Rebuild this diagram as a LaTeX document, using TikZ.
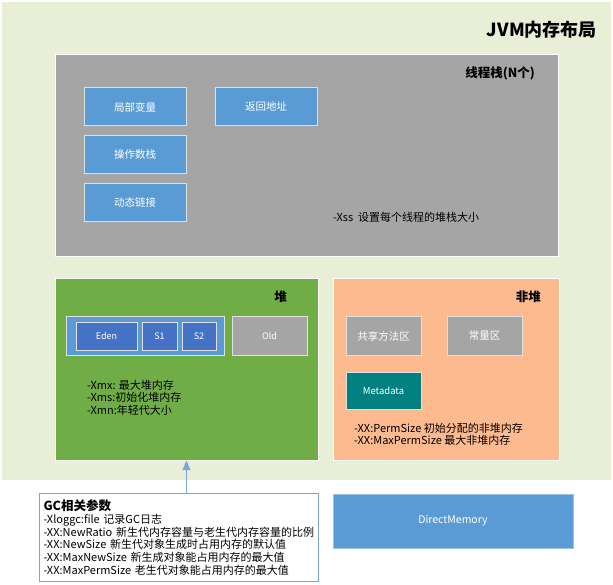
\documentclass[tikz,border=0pt]{standalone}
\usepackage{fontspec}
\setmainfont{Noto Sans CJK SC}
\usepackage{tikz}
\usetikzlibrary{arrows,calc,positioning}

\definecolor{jvmbg}{HTML}{E9EFD6}
\definecolor{stackgray}{HTML}{A5A5A5}
\definecolor{cellblue}{HTML}{5B9BD5}
\definecolor{darkblue}{HTML}{4472C4}
\definecolor{heapgreen}{HTML}{70AD47}
\definecolor{nonheaporange}{HTML}{FCBA8E}
\definecolor{metateal}{HTML}{008080}
\definecolor{gcline}{HTML}{7BA5D9}

\tikzset{
  panel/.style={draw=white, line width=1pt, inner sep=0pt},
  cell/.style={draw=white!88!black, line width=1pt, fill=cellblue, text=white,
    minimum width=102pt, minimum height=38pt, inner sep=0pt,
    font=\fontsize{10.5}{12}\selectfont},
  small/.style={cell, minimum width=75pt},
  title/.style={font=\fontsize{12.5}{14}\bfseries\selectfont, inner sep=0pt},
  note/.style={align=left, inner sep=0pt, font=\fontsize{11}{12.5}\selectfont}
}

\begin{document}
\begin{tikzpicture}[x=1pt,y=-1pt]
  \useasboundingbox (0,0) rectangle (613,585);

  % outer layout
  \node[panel, draw=none, fill=jvmbg, minimum width=609pt, minimum height=478pt] (jvm) at (306.5,241) {};
  \node[title, font=\fontsize{18}{20}\bfseries\selectfont, anchor=east] (jvmtitle) at (597,30) {JVM内存布局};

  % thread stack
  \node[panel, fill=stackgray, minimum width=503pt, minimum height=202pt] (stack) at (306.5,156) {};
  \node[title, anchor=east] (stacktitle) at (535,73) {线程栈(N个)};
  \node[cell] (local) at (135,107) {局部变量};
  \node[cell, right = 28pt of local] (ret) {返回地址};
  \node[cell, below = 9pt of local] (opstack) {操作数栈};
  \node[cell, below = 9pt of opstack] (dynlink) {动态链接};
  \node[note, anchor=west] (xss) at (333,217) {-Xss\ \ 设置每个线程的堆栈大小};

  % heap
  \node[panel, fill=heapgreen, minimum width=263pt, minimum height=181pt] (heap) at (186.5,369.5) {};
  \node[title, anchor=east] (heaptitle) at (287,297) {堆};
  \node[cell, minimum width=158pt] (young) at (145,336) {};
  \node[cell, fill=darkblue, minimum width=61pt, minimum height=28pt, font=\fontsize{9}{10}\selectfont] (eden) at (106.5,336) {Eden};
  \node[cell, fill=darkblue, minimum width=35pt, minimum height=28pt, font=\fontsize{9}{10}\selectfont, right = 4pt of eden] (s1) {S1};
  \node[cell, fill=darkblue, minimum width=34pt, minimum height=28pt, font=\fontsize{9}{10}\selectfont, right = 4pt of s1] (s2) {S2};
  \node[small, fill=stackgray, font=\fontsize{9}{10}\selectfont] (old) at (269.5,336) {Old};
  \node[note, anchor=north west] (heapnote) at (87,380) {-Xmx: 最大堆内存\\-Xms:初始化堆内存\\-Xmn:年轻代大小};

  % non heap
  \node[panel, fill=nonheaporange, minimum width=226pt, minimum height=181pt] (nonheap) at (446,369.5) {};
  \node[title, anchor=east] (nonheaptitle) at (541,297) {非堆};
  \node[small, fill=stackgray] (method) at (383.5,336) {共享方法区};
  \node[small, fill=stackgray, right = 25pt of method] (const) {常量区};
  \node[small, fill=metateal, minimum height=37pt, font=\fontsize{9.5}{11}\selectfont, below = 16pt of method] (meta) {Metadata};
  \node[note, anchor=north west] (permnote) at (354,423) {-XX:PermSize 初始分配的非堆内存\\-XX:MaxPermSize 最大非堆内存};

  % gc parameters
  \node[draw=gcline, line width=1pt, fill=white, minimum width=279pt, minimum height=88pt,
    text width=271pt, align=left, inner sep=4pt, anchor=north west,
    font=\fontsize{11}{12.7}\selectfont] (gc) at (39,493)
    {{\fontsize{12.5}{14}\bfseries\selectfont GC相关参数}\\
     -Xloggc:file 记录GC日志\\
     -XX:NewRatio 新生代内存容量与老生代内存容量的比例\\
     -XX:NewSize 新生代对象生成时占用内存的默认值\\
     -XX:MaxNewSize 新生成对象能占用内存的最大值\\
     -XX:MaxPermSize 老生代对象能占用内存的最大值};
  \draw[gcline, line width=1.2pt, -triangle 45] (heap.south |- gc.north) -- (heap.south);

  \node[cell, draw=cellblue!60!white, minimum width=240pt, minimum height=54pt, font=\fontsize{10.5}{12}\selectfont] (direct) at (453,521) {DirectMemory};
\end{tikzpicture}
\end{document}
